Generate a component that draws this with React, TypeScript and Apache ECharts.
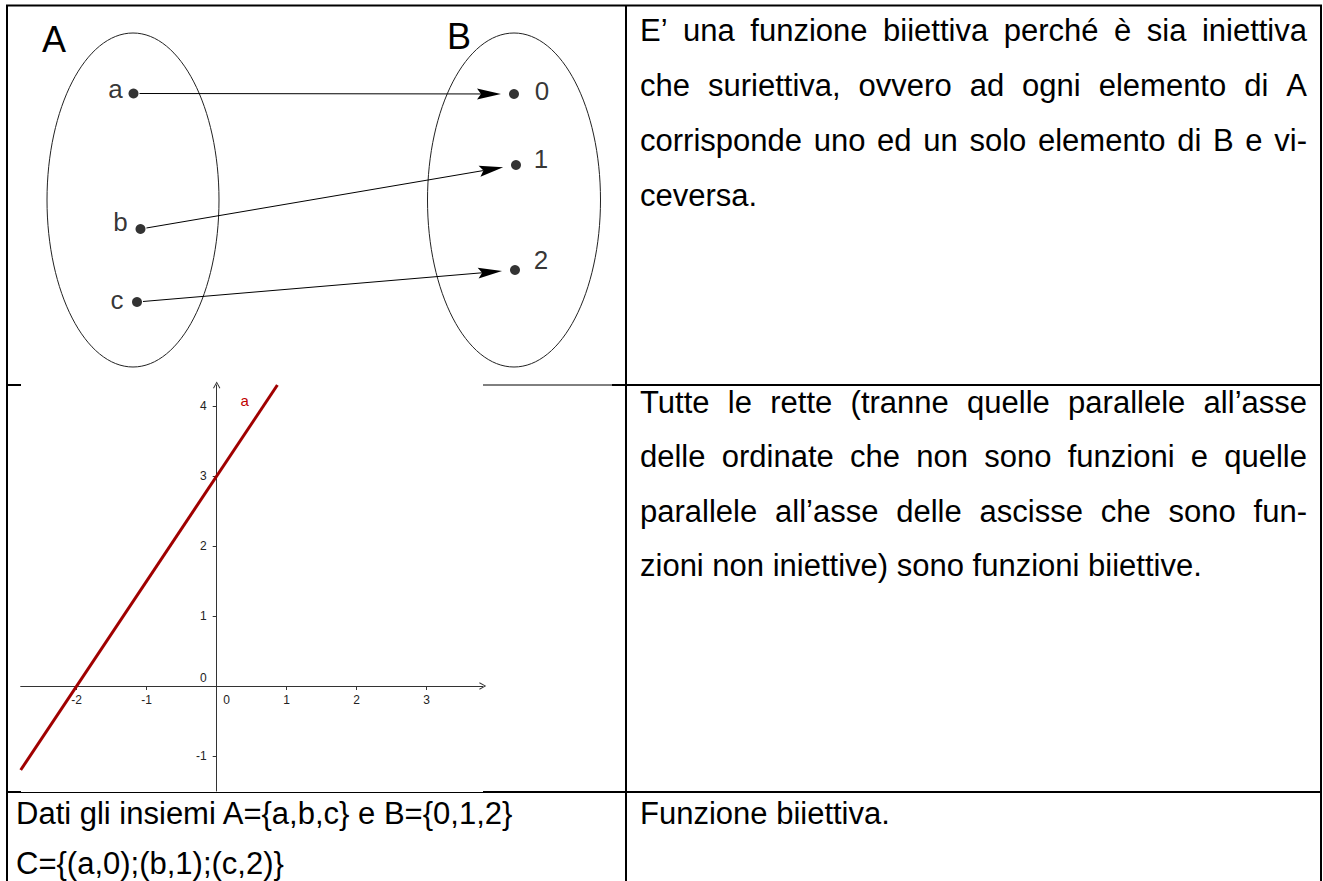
import React, { useEffect, useRef } from 'react';
import * as echarts from 'echarts';

// ---------- data ----------
const setA = ['a', 'b', 'c'];
const setB = ['0', '1', '2'];
const mapping: [string, string][] = [
  ['a', '0'],
  ['b', '1'],
  ['c', '2'],
];

const xTicks = [-2, -1, 0, 1, 2, 3];
const yTicks = [-1, 0, 1, 2, 3, 4];
const lineX = [-2.8, 0.867];
const lineY = [-1.2, 4.3];
const lineName = 'a';

const row1Text = [
  'E’ una funzione biiettiva perché è sia iniettiva',
  'che suriettiva, ovvero ad ogni elemento di A',
  'corrisponde uno ed un solo elemento di B e vi-',
  'ceversa.',
];
const row2Text = [
  'Tutte le rette (tranne quelle parallele all’asse',
  'delle ordinate che non sono funzioni e quelle',
  'parallele all’asse delle ascisse che sono fun-',
  'zioni non iniettive) sono funzioni biiettive.',
];
const row3Left = ['Dati gli insiemi A={a,b,c} e B={0,1,2}', 'C={(a,0);(b,1);(c,2)}'];
const row3Right = ['Funzione biiettiva.'];

// ---------- layout ----------
const W = 1323;
const H = 881;
const FONT = '"Liberation Sans", Arial, sans-serif';
const FS = 31;

const posA: Record<string, number[]> = { a: [133.5, 93.5], b: [140.5, 229], c: [137, 302] };
const posB: Record<string, number[]> = { '0': [514, 94], '1': [516, 165], '2': [515, 270] };
const labelOffA: Record<string, number[]> = { a: [-18, -5], b: [-20, -7], c: [-20, -2] };
const labelOffB: Record<string, number[]> = { '0': [28, -3], '1': [25, -6], '2': [26, -10] };

// graph panel (pixels)
const G_LEFT = 20.7;
const G_TOP = 385;
const G_W = 462;
const G_H = 406;
const X_MIN = -2.8;
const X_MAX = 3.8;
const Y_MIN = -1.5;
const Y_MAX = 4.3;
const X_AXIS_OFFSET = -(G_H * (0 - Y_MIN)) / (Y_MAX - Y_MIN);
const Y_AXIS_OFFSET = -(G_W * (0 - X_MIN)) / (X_MAX - X_MIN);

function measure(text: string, fs: number): number {
  const c = document.createElement('canvas').getContext('2d');
  if (!c) return text.length * fs * 0.5;
  c.font = `${fs}px "Liberation Sans"`;
  return c.measureText(text).width;
}

function textEl(text: string, x: number, baseline: number, fs: number, color = '#000', align = 'left') {
  return {
    type: 'text',
    x,
    y: baseline - 0.3465 * fs,
    silent: true,
    style: {
      text,
      fill: color,
      font: `${fs}px ${FONT}`,
      textAlign: align,
      textVerticalAlign: 'middle',
    },
  };
}

function paragraph(lines: string[], x0: number, x1: number, b0: number, pitch: number, justify: boolean) {
  const els: any[] = [];
  lines.forEach((line, i) => {
    const baseline = b0 + i * pitch;
    const last = i === lines.length - 1;
    if (!justify || last) {
      els.push(textEl(line, x0, baseline, FS));
    } else {
      const words = line.split(' ');
      const widths = words.map((w) => measure(w, FS));
      const total = widths.reduce((a, b) => a + b, 0);
      const gap = (x1 - x0 - total) / (words.length - 1);
      let x = x0;
      words.forEach((w, k) => {
        els.push(textEl(w, x, baseline, FS));
        x += widths[k] + gap;
      });
    }
  });
  return els;
}

function hline(x1: number, x2: number, y: number, w: number) {
  return { type: 'line', silent: true, shape: { x1, y1: y, x2, y2: y }, style: { stroke: '#000', lineWidth: w } };
}
function vline(x: number, y1: number, y2: number, w: number) {
  return { type: 'line', silent: true, shape: { x1: x, y1, x2: x, y2 }, style: { stroke: '#000', lineWidth: w } };
}

const CHEVRON = 'path://M0,9 L5,0 L10,9 L8.8,9.6 L5,2.4 L1.2,9.6 Z';

const tickLabel = {
  fontSize: 12,
  color: '#222',
  fontFamily: FONT,
};

export default function App() {
  const ref = useRef<HTMLDivElement>(null);
  useEffect(() => {
    if (!ref.current) return;
    const chart = echarts.init(ref.current, undefined, { renderer: 'svg' });

    const borders = [
      hline(6, 1322, 5.5, 2),
      vline(7, 5, H, 2),
      vline(1321, 5, H, 2),
      vline(626, 5, H, 2),
      hline(6, 21, 385, 2),
      hline(483, 612, 385, 1),
      hline(612, 1322, 385, 2),
      hline(6, 21, 792, 2),
      hline(21, 483, 792.5, 1),
      hline(483, 1322, 792, 2),
    ];

    const ellipses = [
      { type: 'ellipse', silent: true, shape: { cx: 133, cy: 200, rx: 86, ry: 167 }, style: { fill: 'none', stroke: '#222', lineWidth: 1 } },
      { type: 'ellipse', silent: true, shape: { cx: 514, cy: 200, rx: 86.5, ry: 167 }, style: { fill: 'none', stroke: '#222', lineWidth: 1 } },
    ];

    const setLabels = [
      { type: 'text', x: 54, y: 39, silent: true, style: { text: 'A', fill: '#000', font: `36px ${FONT}`, textAlign: 'center', textVerticalAlign: 'middle' } },
      { type: 'text', x: 459, y: 36, silent: true, style: { text: 'B', fill: '#000', font: `36px ${FONT}`, textAlign: 'center', textVerticalAlign: 'middle' } },
    ];

    const texts = [
      ...paragraph(row1Text, 640, 1307, 41, 55, true),
      ...paragraph(row2Text, 640, 1307, 413, 54.5, true),
      ...paragraph(row3Left, 16, 600, 824, 50, false),
      ...paragraph(row3Right, 640, 1307, 824, 50, false),
    ];

    const dotData = [
      ...setA.map((k) => ({
        name: k,
        value: posA[k],
        label: { show: true, formatter: k, position: 'inside', offset: labelOffA[k], fontSize: 26, color: '#000', fontFamily: FONT },
      })),
      ...setB.map((k) => ({
        name: k,
        value: posB[k],
        label: { show: true, formatter: k, position: 'inside', offset: labelOffB[k], fontSize: 26, color: '#000', fontFamily: FONT },
      })),
    ];

    const arrowData = mapping.map(([s, t]) => [...posA[s], ...posB[t]]);

    const option: any = {
      animation: false,
      backgroundColor: '#fff',
      textStyle: { fontFamily: FONT },
      grid: [
        { left: 0, top: 0, width: W, height: H, show: false },
        { left: G_LEFT, top: G_TOP, width: G_W, height: G_H, show: false },
      ],
      xAxis: [
        { gridIndex: 0, type: 'value', min: 0, max: W, show: false },
        {
          gridIndex: 1,
          type: 'value',
          min: X_MIN,
          max: X_MAX,
          position: 'bottom',
          offset: X_AXIS_OFFSET,
          splitLine: { show: false },
          axisLine: {
            show: true,
            onZero: false,
            symbol: ['none', CHEVRON],
            symbolSize: [9, 7],
            lineStyle: { color: '#333', width: 1 },
          },
          axisTick: { show: true, length: 4, customValues: xTicks, lineStyle: { color: '#333' } },
          axisLabel: {
            customValues: xTicks,
            margin: 8,
            ...tickLabel,
            formatter: (v: number) => (v === 0 ? '{z|0}' : String(v)),
            rich: { z: { padding: [0, 0, 0, 20], ...tickLabel } },
          },
        },
      ],
      yAxis: [
        { gridIndex: 0, type: 'value', min: 0, max: H, inverse: true, show: false },
        {
          gridIndex: 1,
          type: 'value',
          min: Y_MIN,
          max: Y_MAX,
          position: 'left',
          offset: Y_AXIS_OFFSET,
          splitLine: { show: false },
          axisLine: {
            show: true,
            onZero: false,
            symbol: ['none', CHEVRON],
            symbolSize: [9, 7],
            lineStyle: { color: '#333', width: 1 },
          },
          axisTick: { show: true, length: 4, customValues: yTicks, lineStyle: { color: '#333' } },
          axisLabel: {
            customValues: yTicks,
            margin: 10,
            ...tickLabel,
            formatter: (v: number) => (v === 0 ? '{z|0}' : String(v)),
            rich: { z: { padding: [0, 0, 16, 0], ...tickLabel } },
          },
        },
      ],
      series: [
        {
          type: 'custom',
          xAxisIndex: 0,
          yAxisIndex: 0,
          silent: true,
          encode: { x: [0, 2], y: [1, 3] },
          data: arrowData,
          renderItem: (params: any, api: any) => {
            const p1 = api.coord([api.value(0), api.value(1)]);
            const p2 = api.coord([api.value(2), api.value(3)]);
            const dx = p2[0] - p1[0];
            const dy = p2[1] - p1[1];
            const len = Math.hypot(dx, dy);
            const ux = dx / len;
            const uy = dy / len;
            const nx = -uy;
            const ny = ux;
            const start = [p1[0] + ux * 6, p1[1] + uy * 6];
            const tip = [p2[0] - ux * 13, p2[1] - uy * 13];
            const base = [tip[0] - ux * 24, tip[1] - uy * 24];
            const hw = 5.5;
            return {
              type: 'group',
              children: [
                { type: 'line', shape: { x1: start[0], y1: start[1], x2: base[0] + ux * 4, y2: base[1] + uy * 4 }, style: { stroke: '#000', lineWidth: 1 } },
                {
                  type: 'polygon',
                  shape: {
                    points: [
                      tip,
                      [base[0] + nx * hw, base[1] + ny * hw],
                      [base[0] + ux * 4, base[1] + uy * 4],
                      [base[0] - nx * hw, base[1] - ny * hw],
                    ],
                  },
                  style: { fill: '#000' },
                },
              ],
            };
          },
        },
        {
          type: 'scatter',
          xAxisIndex: 0,
          yAxisIndex: 0,
          silent: true,
          symbol: 'circle',
          symbolSize: 10,
          itemStyle: { color: '#000' },
          data: dotData,
        },
        {
          type: 'line',
          xAxisIndex: 1,
          yAxisIndex: 1,
          silent: true,
          showSymbol: false,
          symbol: 'none',
          data: lineX.map((x, i) => [x, lineY[i]]),
          lineStyle: { color: '#a00000', width: 3 },
          endLabel: { show: true, formatter: lineName, color: '#c00000', fontSize: 15, fontFamily: FONT, offset: [-45, 15] },
        },
      ],
      graphic: [...ellipses, ...setLabels, ...texts, ...borders],
    };
    chart.setOption(option);
    return () => chart.dispose();
  }, []);
  return <div ref={ref} style={{ position: 'absolute', left: 0, top: 0, width: W, height: H }} />;
}
